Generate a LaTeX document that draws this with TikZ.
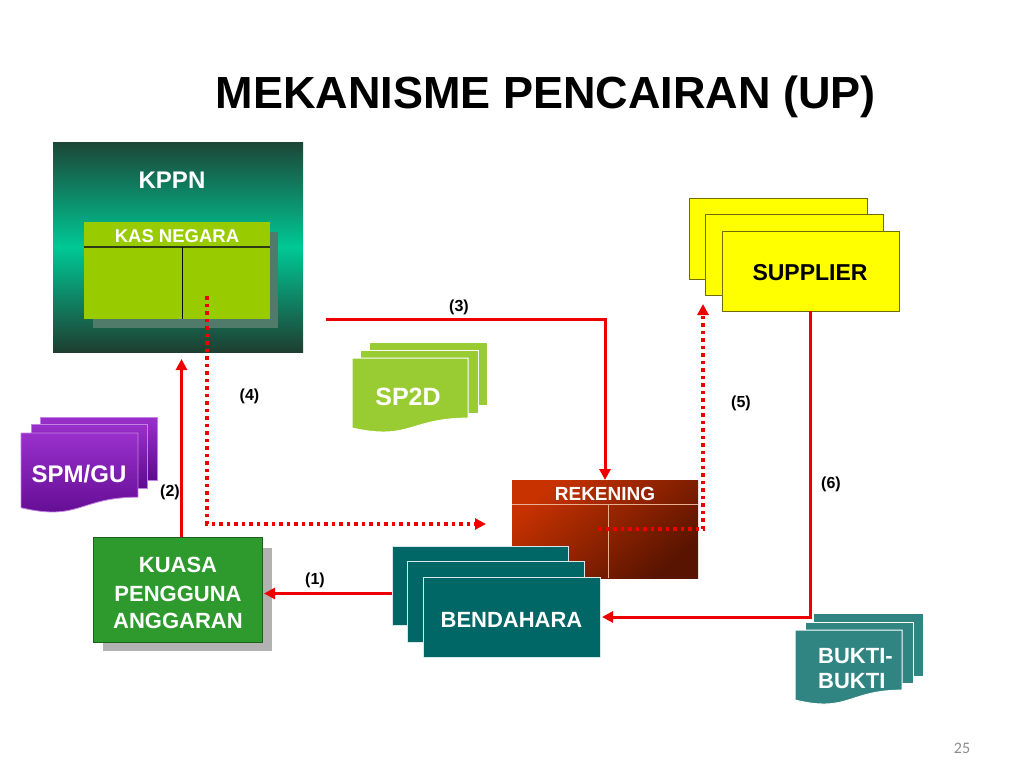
\documentclass[tikz,border=0pt]{standalone}
\usepackage{fontspec}
\setmainfont{Liberation Sans}
\newfontfamily\pagefont{Carlito}
\usetikzlibrary{arrows.meta,calc}
\definecolor{arrowred}{HTML}{EE0000}
\definecolor{kppnDark}{HTML}{1C4636}
\definecolor{kppnMid}{HTML}{00C896}
\definecolor{kppnBot}{HTML}{1E3E30}
\definecolor{kasGreen}{HTML}{99CC00}
\definecolor{kasShadow}{HTML}{507A6A}
\definecolor{kasLine}{HTML}{2E3A14}
\definecolor{kpaGreen}{HTML}{2E9A2E}
\definecolor{kpaBorder}{HTML}{1E5E1E}
\definecolor{kpaShadow}{HTML}{B2B2B2}
\definecolor{bendTeal}{HTML}{006666}
\definecolor{bendEdge}{HTML}{D6E8E8}
\definecolor{supYellow}{HTML}{FFFF00}
\definecolor{supEdge}{HTML}{6E6E00}
\definecolor{rekLight}{HTML}{C83200}
\definecolor{rekDark}{HTML}{581400}
\definecolor{rekLine}{HTML}{E8B090}
\definecolor{spmTop}{HTML}{9A30CC}
\definecolor{spmBot}{HTML}{5E0A8E}
\definecolor{sptGreen}{HTML}{99CC33}
\definecolor{buktiTeal}{HTML}{308482}
\definecolor{pageGray}{HTML}{8C8C8C}
\newcommand\wavedoc[5]{%
  \path[#5] (#1,#2) -- ({#1+#3},#2) -- ({#1+#3},{#2+0.802*#4})
    .. controls ({#1+0.5*#3},{#2+0.802*#4}) and ({#1+0.5*#3},{#2+1.107*#4}) .. (#1,{#2+0.934*#4}) -- cycle;}
\begin{document}
\begin{tikzpicture}[x=1pt,y=-1pt,
  box/.style={anchor=north west, inner sep=0pt, outer sep=0pt},
  redline/.style={draw=arrowred, line width=3pt},
  redarrow/.style={redline, -{Triangle[length=11pt,width=11pt]}},
  reddots/.style={draw=arrowred, line width=3.5pt, dash pattern=on 3.5pt off 4pt, -{Triangle[length=11pt,width=11pt]}},
  lbl/.style={font=\fontsize{16}{16}\selectfont\bfseries, anchor=base, inner sep=0pt},
  wtxt/.style={text=white, inner sep=0pt, anchor=base},
  purplesheet/.style={top color=spmTop, bottom color=spmBot, draw=spmTop!60!white, line width=0.8pt},
  greensheet/.style={fill=sptGreen, draw=white, line width=1pt},
  tealsheet/.style={fill=buktiTeal, draw=white, line width=1pt},
  bendsheet/.style={fill=bendTeal, draw=bendEdge, line width=1pt},
  supsheet/.style={fill=supYellow, draw=supEdge, line width=0.8pt}]
\useasboundingbox (0,0) rectangle (1024,768);

% title
\node[anchor=base, inner sep=0pt, font=\fontsize{45}{45}\selectfont\bfseries] (title) at (546,108) {MEKANISME PENCAIRAN (UP)};

% KPPN
\node[box, minimum width=250pt, minimum height=210pt, top color=kppnDark, bottom color=kppnBot, middle color=kppnMid] (kppn) at (53,142) {};
\node[wtxt, font=\fontsize{24}{24}\selectfont\bfseries] (kppntxt) at (172,188) {KPPN};
\node[box, minimum width=185pt, minimum height=96pt, fill=kasShadow] (kasshadow) at (93,232) {};
\node[box, minimum width=186pt, minimum height=97pt, fill=kasGreen] (kas) at (84,222) {};
\draw[kasLine, line width=1.5pt] (84,247) -- (270,247);
\draw[black, line width=1pt] (182,247) -- (182,319);
\node[wtxt, font=\fontsize{18.5}{18.5}\selectfont\bfseries] (kastxt) at (177,242) {KAS NEGARA};

% SPM/GU
\path[purplesheet] (40,417) rectangle (157,480);
\path[purplesheet] (31,424) rectangle (147,488);
\wavedoc{21}{433}{117}{80}{purplesheet}
\node[wtxt, font=\fontsize{24}{24}\selectfont\bfseries] (spm) at (79,482) {SPM/GU};

% SP2D
\path[greensheet] (369,342) rectangle (487,405);
\path[greensheet] (360,350) rectangle (478,413);
\wavedoc{352}{358}{116}{75}{greensheet}
\node[wtxt, font=\fontsize{25}{25}\selectfont\bfseries] (sp2d) at (408,405) {SP2D};

% REKENING
\node[box, minimum width=186pt, minimum height=98pt, top color=rekLight, bottom color=rekDark, shading angle=40] (rek) at (512,480) {};
\draw[rekLine, line width=1pt] (512,504) -- (698,504);
\draw[rekLine, line width=1pt] (608,504) -- (608,578);
\node[wtxt, font=\fontsize{19}{19}\selectfont\bfseries] (rektxt) at (605,500.5) {REKENING};

% KPA
\node[box, minimum width=169pt, minimum height=103pt, fill=kpaShadow] (kpashadow) at (103,548) {};
\node[box, minimum width=169pt, minimum height=105pt, fill=kpaGreen, draw=kpaBorder, line width=1pt] (kpa) at (93,537) {};
\node[wtxt, font=\fontsize{22}{22}\selectfont\bfseries] (kpa1) at (178,572) {KUASA};
\node[wtxt, font=\fontsize{22}{22}\selectfont\bfseries] (kpa2) at (178,601) {PENGGUNA};
\node[wtxt, font=\fontsize{22}{22}\selectfont\bfseries] (kpa3) at (178,628) {ANGGARAN};

% BENDAHARA
\node[box, minimum width=176pt, minimum height=79pt, bendsheet] (bendback) at (392,546) {};
\node[box, minimum width=177pt, minimum height=81pt, bendsheet] (bendmid) at (407,561) {};
\node[box, minimum width=177pt, minimum height=80pt, bendsheet] (bend) at (423,577) {};
\node[wtxt, font=\fontsize{22}{22}\selectfont\bfseries] (bendtxt) at (511.5,627) {BENDAHARA};

% SUPPLIER
\node[box, minimum width=178pt, minimum height=81pt, supsheet] (supback) at (689,198) {};
\node[box, minimum width=178pt, minimum height=81pt, supsheet] (supmid) at (705,214) {};
\node[box, minimum width=177pt, minimum height=80pt, supsheet] (sup) at (722,231) {};
\node[anchor=base, inner sep=0pt, font=\fontsize{23}{23}\selectfont\bfseries] (suptxt) at (810,280) {SUPPLIER};

% BUKTI-BUKTI
\path[tealsheet] (813,613) rectangle (923,676);
\path[tealsheet] (805,622) rectangle (913,683);
\wavedoc{795}{630}{107}{75}{tealsheet}
\node[wtxt, anchor=base west, font=\fontsize{22}{22}\selectfont\bfseries] (bukti1) at (818,663) {BUKTI-};
\node[wtxt, anchor=base west, font=\fontsize{22}{22}\selectfont\bfseries] (bukti2) at (818,688) {BUKTI};

% connectors
\coordinate (s3) at (326,319);
\coordinate (s4) at (207,296);
\coordinate (e4) at (486,524);
\coordinate (s5) at (598,529);
\coordinate (e5) at (703,304);
\draw[redarrow] ([yshift=-8pt]bendback.west) -- ([yshift=-8pt,xshift=2pt]bendback.west -| kpa.east);
\draw[redarrow] ([xshift=4pt]kpa.north) -- ([xshift=4pt,yshift=-7pt]kpa.north |- kppn.south);
\draw[redarrow] (s3) -| (rek.north);
\draw[reddots] (s4) |- (e4);
\draw[reddots] (s5) -| (e5);
\draw[redarrow] (sup.south) |- ([xshift=2pt]bend.east);

% labels
\node[lbl] (l1) at (315,584) {(1)};
\node[lbl] (l2) at (170,496) {(2)};
\node[lbl] (l3) at (459,311) {(3)};
\node[lbl] (l4) at (249.5,400) {(4)};
\node[lbl] (l5) at (741,407) {(5)};
\node[lbl] (l6) at (831,488) {(6)};

% page number
\node[anchor=base, inner sep=0pt, text=pageGray, font=\pagefont\fontsize{16}{16}\selectfont] (page) at (962,753) {25};
\end{tikzpicture}
\end{document}
